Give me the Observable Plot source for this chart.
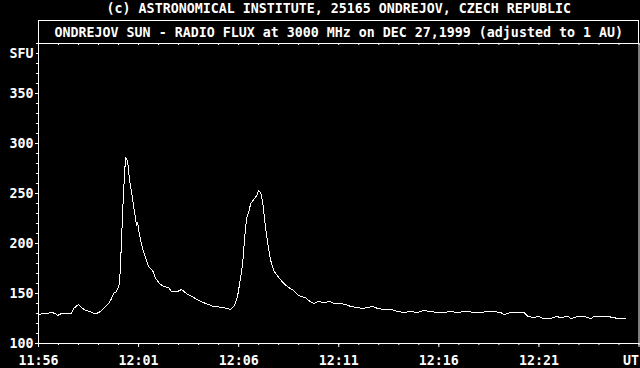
<!DOCTYPE html>
<html>
<head>
<meta charset="utf-8">
<script src="https://cdn.jsdelivr.net/npm/d3@7"></script>
<script src="https://cdn.jsdelivr.net/npm/@observablehq/plot@0.6"></script>
<style>
  html, body { margin: 0; padding: 0; background: #000; }
  #wrap { position: relative; width: 640px; height: 368px; background: #000; overflow: hidden; }
  #box { position: absolute; left: 38px; top: 20px; width: 601px; height: 23px; box-sizing: border-box;
         border: 1px solid #fff; border-bottom: none; }
  svg { display: block; }
  svg [aria-label="y-axis"] .tick line, svg [aria-label="x-axis"] .tick line { stroke-width: 3px; stroke: #fff; }
  svg [aria-label="y-axis"] text, svg [aria-label="x-axis"] text { fill: #fff; }
</style>
</head>
<body>
<div id="wrap"><div id="box"></div></div>
<script>
// ---- data ----
const titleText = "(c) ASTRONOMICAL INSTITUTE, 25165 ONDREJOV, CZECH REPUBLIC";
const subtitleText = "ONDREJOV SUN - RADIO FLUX at 3000 MHz on DEC 27,1999 (adjusted to 1 AU)";

// minutes after 11:56 UT
const minutes = [0.00,0.25,0.40,0.65,0.85,0.95,1.15,1.35,1.65,1.75,2.00,2.15,2.35,2.60,2.75,2.90,3.10,3.30,3.50,3.65,
  3.75,3.90,4.05,4.15,4.20,4.30,4.35,4.45,4.55,4.70,4.80,4.90,4.95,5.05,5.20,5.35,5.50,5.70,5.85,6.05,
  6.25,6.50,6.65,6.95,7.15,7.45,7.75,8.00,8.35,8.75,9.25,9.60,9.80,9.95,10.05,10.20,10.30,10.40,10.50,10.60,
  10.75,10.90,11.00,11.10,11.20,11.30,11.45,11.60,11.75,12.00,12.25,12.50,12.75,13.00,13.10,13.35,13.50,13.75,13.95,14.25,
  14.55,14.75,15.10,15.35,15.60,15.95,16.20,16.45,16.70,16.95,17.25,17.60,17.95,18.25,18.60,18.95,19.25,19.60,19.95,20.25,
  20.60,20.95,21.25,21.45,21.75,22.10,22.45,22.75,23.10,23.25,23.60,23.95,24.25,24.45,24.75,25.00,25.20,25.60,25.85,26.10,
  26.45,26.60,26.95,27.25,27.60,27.75,28.10,28.45,28.70,28.95,29.20,29.35];
// solar flux units
const flux = [129,130,130,131,130,128,130,130,130,135,139,136,133,132,130,130,132,136,140,145,
  150,152,160,203,231,270,286,283,263,245,231,218,221,208,195,186,177,173,165,160,
  157,156,152,152,154,149,146,143,140,137,136,134,138,148,160,180,206,226,231,240,
  244,248,253,251,241,223,200,183,173,166,160,156,153,148,147,146,143,140,142,141,
  142,140,140,139,137,136,135,136,137,135,134,134,132,131,132,131,133,132,131,131,
  132,131,132,132,131,131,132,132,131,129,131,131,131,127,126,127,125,125,127,126,
  127,125,127,127,125,127,127,127,126,125,125,125];

const yDomain = [100, 400];
const xDomain = [0, 30];
const yMajor = [100, 150, 200, 250, 300, 350];
const yMinor = [100,110,120,130,140,150,160,170,180,190,200,210,220,230,240,250,260,270,280,290,300,310,320,330,340,350,360,370,380,390,400];
const xMajor = [0, 5, 10, 15, 20, 25, 30];
const xLabels = ["11:56", "12:01", "12:06", "12:11", "12:16", "12:21", ""];
const xMinor = d3.range(0, 31, 1);
const unitY = "SFU";
const unitX = "UT";

const data = minutes.map((m, i) => ({m, v: flux[i]}));
const font = "'DejaVu Sans Mono', 'Liberation Mono', monospace";
const tickLenY = 0.1 * (yDomain[1] - yDomain[0]) / 300 * 20 / 20; // unused helper guard

const chart = Plot.plot({
  width: 640,
  height: 368,
  marginLeft: 38,
  marginRight: 1.5,
  marginTop: 43,
  marginBottom: 25,
  x: {domain: xDomain, ticks: xMajor, tickFormat: (d) => xLabels[xMajor.indexOf(d)] ?? "", tickSize: 4, tickPadding: 8, label: null},
  y: {domain: yDomain, ticks: yMajor, tickSize: 3, tickPadding: 2, label: null},
  style: {background: "#000", color: "#fff", fontFamily: font, fontSize: "13.3px", fontWeight: "bold"},
  marks: [
    Plot.frame({stroke: "#fff"}),
    // minor ticks, left (outside)
    Plot.ruleY(yMinor, {y: d => d, x1: xDomain[0] - 0.1, x2: xDomain[0], stroke: "#fff"}),
    // minor ticks, bottom (outside)
    Plot.ruleX(xMinor, {x: d => d, y1: yDomain[0], y2: yDomain[0] - 2, stroke: "#fff"}),
    // inward ticks along the top edge
    Plot.ruleX(xMinor, {x: d => d, y1: yDomain[1], y2: yDomain[1] - 2, stroke: "#fff"}),
    Plot.text([unitY], {y: [390], frameAnchor: "left", textAnchor: "end", dx: -5, fill: "#fff", fontWeight: "bold"}),
    Plot.text([unitX], {x: [xDomain[1]], frameAnchor: "bottom", lineAnchor: "top", textAnchor: "end", dy: 12, fill: "#fff", fontWeight: "bold"}),
    // titles
    Plot.text([titleText], {frameAnchor: "top", lineAnchor: "middle", dy: -35, fill: "#fff", fontWeight: "bold"}),
    Plot.text([subtitleText], {frameAnchor: "top", lineAnchor: "middle", dy: -11, fill: "#fff", fontWeight: "bold"}),
    // the flux curve
    Plot.line(data, {x: "m", y: "v", stroke: "#fff", strokeWidth: 1, shapeRendering: "crispEdges"})
  ]
});
document.getElementById("wrap").prepend(chart);
</script>
</body>
</html>
